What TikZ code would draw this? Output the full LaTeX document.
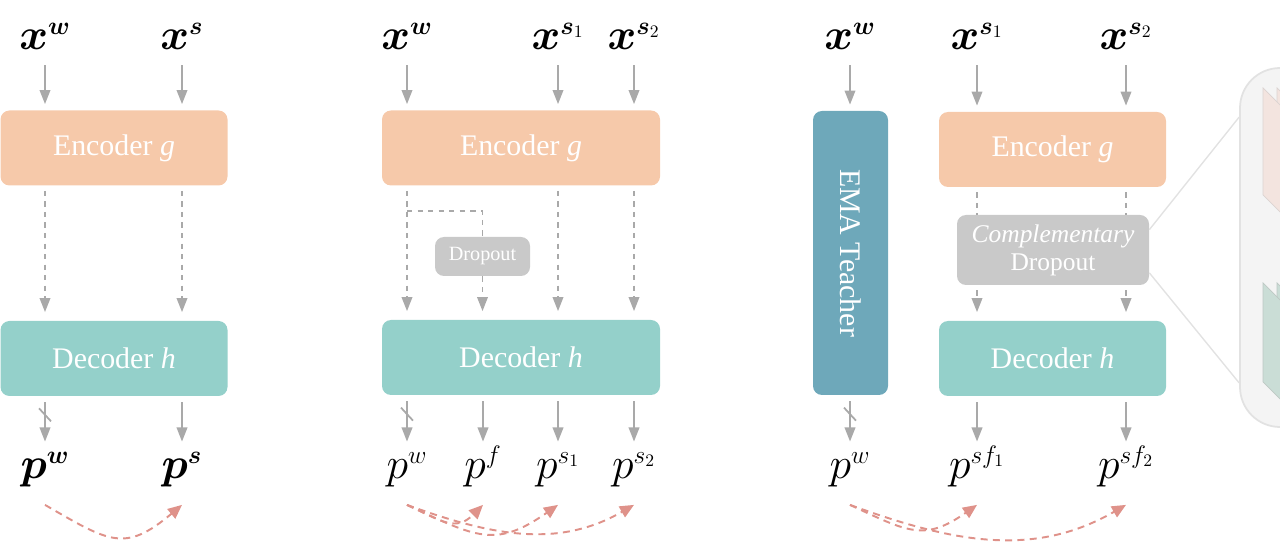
\documentclass[tikz,border=0pt]{standalone}
\usepackage{amsmath}
\usepackage{amssymb}
\usepackage{xcolor}
\usepackage{fontspec}
\setmainfont{Liberation Serif}
\usepackage{tikz}
\usetikzlibrary{arrows.meta}

\DeclareMathSizes{24.88}{24.88}{14.4}{10}

\definecolor{encpeach}{HTML}{F6C9AA}
\definecolor{decteal}{HTML}{94D0CA}
\definecolor{emablue}{HTML}{6EA8BA}
\definecolor{dropgrey}{HTML}{C9C9C9}
\definecolor{arrgrey}{HTML}{A9A9A9}
\definecolor{consred}{HTML}{DF928A}
\definecolor{zoomfill}{HTML}{F4F4F4}
\definecolor{zoomedge}{HTML}{E2E2E2}
\definecolor{layerpeach}{HTML}{F3E4DF}
\definecolor{layergreen}{HTML}{CADDD6}

\begin{document}
\begin{tikzpicture}[
  block/.style={rounded corners=0.18cm, inner sep=0pt, text=white, font=\fontsize{17}{20}\selectfont},
  enc/.style={block, fill=encpeach, minimum height=1.5cm},
  dec/.style={block, fill=decteal, minimum height=1.5cm},
  var/.style={inner sep=0pt, anchor=base, text height=14pt, text depth=6pt, font=\Huge},
  flow/.style={draw=arrgrey, line width=1.1pt, -{Triangle[length=8pt,width=6pt]}},
  inflow/.style={flow, shorten <=0.09cm, shorten >=0.12cm},
  outflow/.style={flow, shorten <=0.12cm, shorten >=0.25cm},
  skipline/.style={draw=arrgrey, line width=1.1pt, dash pattern=on 3pt off 3pt},
  skip/.style={skipline, -{Triangle[length=8pt,width=6pt]}, shorten <=0.1cm, shorten >=0.17cm},
  cons/.style={draw=consred, line width=1.1pt, dash pattern=on 4pt off 3pt, -{Triangle[length=8pt,width=7pt]}},
  cutline/.style={draw=arrgrey, line width=1pt}
]
\useasboundingbox (0,0) rectangle (25.6,10.88);
\clip (0,0) rectangle (25.6,10.88);

% --- supervised baseline
\node[enc, minimum width=4.54cm] (enc1) at (2.28,7.92) {Encoder \textit{g}};
\node[dec, minimum width=4.54cm] (dec1) at (2.28,3.71) {Decoder \textit{h}};
\node[var] (xw1) at (0.9,9.88) {$\boldsymbol{x}^{\boldsymbol{w}}$};
\node[var] (xs1) at (3.64,9.88) {$\boldsymbol{x}^{\boldsymbol{s}}$};
\node[var] (pw1) at (0.9,1.30) {$\boldsymbol{p}^{\boldsymbol{w}}$};
\node[var] (ps1) at (3.64,1.30) {$\boldsymbol{p}^{\boldsymbol{s}}$};
\draw[inflow] (xw1.south) -- (xw1.south |- enc1.north);
\draw[inflow] (xs1.south) -- (xs1.south |- enc1.north);
\draw[skip] (xw1 |- enc1.south) -- (xw1 |- dec1.north);
\draw[skip] (xs1 |- enc1.south) -- (xs1 |- dec1.north);
\draw[outflow] (pw1 |- dec1.south) -- coordinate[pos=0.32] (cut1) (pw1.north);
\draw[cutline] ([shift={(-0.12,0.13)}]cut1) -- ([shift={(0.12,-0.13)}]cut1);
\draw[outflow] (ps1 |- dec1.south) -- (ps1.north);
\draw[cons] ([yshift=-0.3cm]pw1.south) to[out=-30, in=-140, looseness=1.4] ([yshift=-0.3cm]ps1.south);

% --- feature dropout
\node[enc, minimum width=5.56cm] (enc2) at (10.42,7.92) {Encoder \textit{g}};
\node[dec, minimum width=5.56cm] (dec2) at (10.42,3.73) {Decoder \textit{h}};
\node[var] (xw2) at (8.14,9.88) {$\boldsymbol{x}^{\boldsymbol{w}}$};
\node[var] (xa2) at (11.16,9.88) {$\boldsymbol{x}^{\boldsymbol{s}_1}$};
\node[var] (xb2) at (12.68,9.88) {$\boldsymbol{x}^{\boldsymbol{s}_2}$};
\node[var] (pw2) at (8.14,1.30) {$p^{w}$};
\node[var] (pf2) at (9.66,1.30) {$p^{f}$};
\node[var] (pa2) at (11.16,1.30) {$p^{s_1}$};
\node[var] (pb2) at (12.68,1.30) {$p^{s_2}$};
\coordinate (fork2) at (8.14,6.66);
\draw[inflow] (xw2.south) -- (xw2.south |- enc2.north);
\draw[inflow] (xa2.south) -- (xa2.south |- enc2.north);
\draw[inflow] (xb2.south) -- (xb2.south |- enc2.north);
\draw[skip] (xw2 |- enc2.south) -- (xw2 |- dec2.north);
\draw[skip] (xa2 |- enc2.south) -- (xa2 |- dec2.north);
\draw[skip] (xb2 |- enc2.south) -- (xb2 |- dec2.north);
\node[block, fill=dropgrey, minimum width=1.9cm, minimum height=0.78cm, font=\fontsize{11.5}{13}\selectfont] (drop2) at (9.65,5.75) {Dropout};
\draw[skipline] (fork2) -| (drop2.north);
\draw[skip, shorten <=0pt] (drop2.south) -- (drop2.south |- dec2.north);
\draw[outflow] (pw2 |- dec2.south) -- coordinate[pos=0.32] (cut2) (pw2.north);
\draw[cutline] ([shift={(-0.12,0.13)}]cut2) -- ([shift={(0.12,-0.13)}]cut2);
\draw[outflow] (pf2 |- dec2.south) -- (pf2.north);
\draw[outflow] (pa2 |- dec2.south) -- (pa2.north);
\draw[outflow] (pb2 |- dec2.south) -- (pb2.north);
\draw[cons] ([yshift=-0.3cm]pw2.south) to[out=-25, in=-135, looseness=1.3] ([yshift=-0.3cm]pf2.south);
\draw[cons] ([yshift=-0.3cm]pw2.south) to[out=-25, in=-145, looseness=1.3] ([yshift=-0.3cm]pa2.south);
\draw[cons] ([yshift=-0.3cm]pw2.south) to[out=-20, in=-150, looseness=1.0] ([yshift=-0.3cm]pb2.south);

% --- mean teacher with complementary dropout
\node[block, fill=emablue, minimum width=1.5cm, minimum height=5.68cm] (ema3) at (17.01,5.82) {\rotatebox{-90}{EMA Teacher}};
\node[enc, minimum width=4.54cm] (enc3) at (21.05,7.89) {Encoder \textit{g}};
\node[block, fill=dropgrey, minimum width=3.84cm, minimum height=1.4cm, align=center, font=\fontsize{14.5}{16}\selectfont] (comp3) at (21.06,5.88) {\textit{Complementary}\\Dropout};
\node[dec, minimum width=4.54cm] (dec3) at (21.05,3.71) {Decoder \textit{h}};
\node[var] (xw3) at (17.0,9.88) {$\boldsymbol{x}^{\boldsymbol{w}}$};
\node[var] (xa3) at (19.54,9.88) {$\boldsymbol{x}^{\boldsymbol{s}_1}$};
\node[var] (xb3) at (22.52,9.88) {$\boldsymbol{x}^{\boldsymbol{s}_2}$};
\node[var] (pw3) at (17.0,1.30) {$p^{w}$};
\node[var] (pa3) at (19.54,1.30) {$p^{sf_1}$};
\node[var] (pb3) at (22.52,1.30) {$p^{sf_2}$};
\draw[inflow] (xw3.south) -- (xw3.south |- ema3.north);
\draw[inflow] (xa3.south) -- (xa3.south |- enc3.north);
\draw[inflow] (xb3.south) -- (xb3.south |- enc3.north);
\draw[skipline, shorten <=0.1cm] (xa3 |- enc3.south) -- (xa3 |- comp3.north);
\draw[skipline, shorten <=0.1cm] (xb3 |- enc3.south) -- (xb3 |- comp3.north);
\draw[skip] (xa3 |- comp3.south) -- (xa3 |- dec3.north);
\draw[skip] (xb3 |- comp3.south) -- (xb3 |- dec3.north);
\draw[outflow] (pw3 |- ema3.south) -- coordinate[pos=0.32] (cut3) (pw3.north);
\draw[cutline] ([shift={(-0.12,0.13)}]cut3) -- ([shift={(0.12,-0.13)}]cut3);
\draw[outflow] (pa3 |- dec3.south) -- (pa3.north);
\draw[outflow] (pb3 |- dec3.south) -- (pb3.north);
\draw[cons] ([yshift=-0.3cm]pw3.south) to[out=-25, in=-145, looseness=1.3] ([yshift=-0.3cm]pa3.south);
\draw[cons] ([yshift=-0.3cm]pw3.south) to[out=-20, in=-150, looseness=1.0] ([yshift=-0.3cm]pb3.south);

% --- zoomed view of the dropout
\node[draw=zoomedge, fill=zoomfill, line width=1pt, rounded corners=0.8cm, minimum width=4cm, minimum height=7.18cm] (zoom) at (26.8,5.93) {};
\draw[zoomedge, line width=0.8pt] ([yshift=-0.3cm]comp3.north east) -- ([yshift=-1cm]zoom.north west);
\draw[zoomedge, line width=0.8pt] ([yshift=0.25cm]comp3.south east) -- ([yshift=0.9cm]zoom.south west);
\filldraw[fill=layerpeach, draw=layerpeach!80!black!60] (25.54,9.12) -- ++(0.4,-0.4) -- ++(0,-2.14) -- ++(-0.4,0.4) -- cycle;
\filldraw[fill=layerpeach, draw=layerpeach!80!black!60] (25.26,9.12) -- ++(0.4,-0.4) -- ++(0,-2.14) -- ++(-0.4,0.4) -- cycle;
\filldraw[fill=layergreen, draw=layergreen!80!black!70] (25.54,5.22) -- ++(0.4,-0.4) -- ++(0,-1.98) -- ++(-0.4,0.4) -- cycle;
\filldraw[fill=layergreen, draw=layergreen!80!black!70] (25.26,5.22) -- ++(0.4,-0.4) -- ++(0,-1.98) -- ++(-0.4,0.4) -- cycle;
\end{tikzpicture}
\end{document}
